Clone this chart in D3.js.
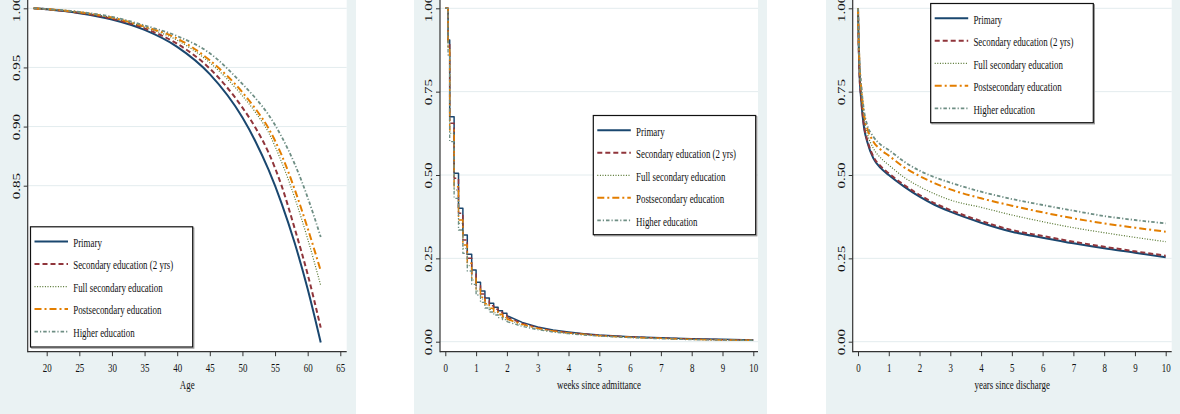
<!DOCTYPE html>
<html><head><meta charset="utf-8">
<script src="https://cdn.jsdelivr.net/npm/d3@7"></script>
<style>
html,body{margin:0;padding:0;background:#fff;}
svg{display:block;}
</style></head>
<body>
<svg id="c" width="1180" height="414"></svg>
<script>
// ---------- DATA ----------
const seriesNames = ["Primary","Secondary education (2 yrs)","Full secondary education","Postsecondary education","Higher education"];

// Panel 1: survival by age
const ages = [18,20,25,30,35,40,45,50,52,54,56,58,60,62];
const agePrimary   = [1.000,0.9991,0.9958,0.9905,0.9817,0.9674,0.9443,0.9076,0.8874,0.8635,0.8351,0.8017,0.7627,0.7175];
const ageSecondary = [1.000,0.9992,0.9962,0.9912,0.9830,0.9700,0.9490,0.9160,0.8990,0.8780,0.8500,0.8140,0.7750,0.7300];
const ageFullSec   = [1.000,0.9993,0.9966,0.9920,0.9840,0.9730,0.9540,0.9260,0.9120,0.8950,0.8700,0.8400,0.8050,0.7656];
const agePostsec   = [1.000,0.9993,0.9967,0.9922,0.9845,0.9745,0.9560,0.9290,0.9150,0.8985,0.8760,0.8470,0.8140,0.7780];
const ageHigher    = [1.000,0.9994,0.9970,0.9928,0.9855,0.9765,0.9620,0.9360,0.9240,0.9100,0.8915,0.8685,0.8400,0.8066];
const ageXTicks = [20,25,30,35,40,45,50,55,60,65];
const ageYTicks = [0.85,0.90,0.95,1.00];

// Panel 2: weeks since admittance (daily steps for two weeks, then tail)
const weeks = [0,0.09,0.143,0.286,0.429,0.571,0.714,0.857,1,1.143,1.286,1.429,1.571,1.714,1.857,2,2.5,3,3.5,4,4.5,5,6,7,8,9,10];
const wkPrimary   = [1,0.905,0.675,0.505,0.400,0.320,0.262,0.215,0.178,0.152,0.131,0.115,0.103,0.093,0.085,0.078,0.058,0.044,0.035,0.029,0.024,0.020,0.015,0.012,0.009,0.007,0.005];
const wkSecondary = [1,0.900,0.655,0.490,0.385,0.305,0.250,0.203,0.168,0.143,0.123,0.108,0.097,0.088,0.080,0.073,0.055,0.042,0.033,0.027,0.023,0.019,0.014,0.011,0.008,0.006,0.005];
const wkFullSec   = [1,0.880,0.625,0.455,0.355,0.280,0.228,0.185,0.152,0.128,0.110,0.097,0.087,0.079,0.072,0.066,0.050,0.038,0.030,0.025,0.021,0.017,0.013,0.010,0.007,0.005,0.004];
const wkPostsec   = [1,0.885,0.635,0.465,0.365,0.290,0.235,0.190,0.158,0.133,0.114,0.100,0.090,0.082,0.075,0.068,0.052,0.040,0.032,0.026,0.022,0.018,0.013,0.010,0.007,0.005,0.004];
const wkHigher    = [1,0.860,0.600,0.430,0.335,0.265,0.212,0.172,0.140,0.118,0.101,0.089,0.080,0.072,0.066,0.060,0.046,0.036,0.029,0.024,0.020,0.017,0.012,0.009,0.006,0.005,0.004];
const stepUntil = 2; // weeks drawn as visible daily steps

// Panel 3: years since discharge
const years = [0,0.02,0.05,0.1,0.2,0.3,0.5,0.75,1,1.5,2,2.5,3,4,5,6,7,8,9,10];
const yrPrimary   = [1,0.90,0.80,0.730,0.640,0.600,0.550,0.520,0.500,0.465,0.435,0.410,0.390,0.357,0.330,0.312,0.295,0.280,0.267,0.253];
const yrSecondary = [1,0.90,0.80,0.735,0.645,0.605,0.555,0.525,0.505,0.470,0.440,0.415,0.395,0.362,0.335,0.317,0.300,0.285,0.271,0.258];
const yrFullSec   = [1,0.91,0.82,0.750,0.665,0.625,0.580,0.550,0.530,0.493,0.465,0.443,0.425,0.403,0.380,0.360,0.342,0.327,0.313,0.300];
const yrPostsec   = [1,0.91,0.83,0.765,0.680,0.640,0.600,0.575,0.558,0.523,0.497,0.475,0.457,0.430,0.408,0.388,0.370,0.355,0.342,0.330];
const yrHigher    = [1,0.92,0.84,0.775,0.690,0.650,0.615,0.590,0.575,0.540,0.513,0.493,0.477,0.450,0.428,0.410,0.393,0.377,0.365,0.355];
const tenTicks = [0,1,2,3,4,5,6,7,8,9,10];
const quarterTicks = [0,0.25,0.5,0.75,1];

// ---------- STYLE ----------
const BG = "#eaf2f3";
const FONT = "'Liberation Serif','Times New Roman',serif";
const FS = 13.5, FSY = 15, SX = 0.66;
const styles = [
  {color:"#1a476f", dash:null,          w:2},
  {color:"#90353b", dash:"5,3",         w:2},
  {color:"#55752f", dash:"1,1.6",       w:1.2},
  {color:"#e37e00", dash:"7,3,2,3",     w:2},
  {color:"#6e8e84", dash:"3.5,2,1.2,2", w:1.8}
];

const svg = d3.select("#c");

function panel(cfg){
  const g = svg.append("g");
  g.append("rect").attr("x",cfg.bgX0).attr("y",0).attr("width",cfg.bgX1-cfg.bgX0).attr("height",414).attr("fill",BG);
  g.append("rect").attr("x",cfg.L).attr("y",-10).attr("width",cfg.R-cfg.L).attr("height",cfg.B+10).attr("fill","#fff");
  const x = d3.scaleLinear().domain(cfg.xd).range(cfg.xr);
  const y = d3.scaleLinear().domain(cfg.yd).range(cfg.yr);
  // gridlines
  g.append("g").selectAll("line").data(cfg.yTicks).join("line")
    .attr("x1",cfg.L).attr("x2",cfg.R).attr("y1",d=>y(d)).attr("y2",d=>y(d))
    .attr("stroke","#e3ecee").attr("stroke-width",1);
  // lines
  cfg.series.forEach((vals,i)=>{
    const st = styles[i];
    const data = cfg.xs.map((t,j)=>[t,vals[j]]);
    const sw = cfg.lw ? cfg.lw*st.w/2 : st.w;
    const parts = cfg.split!=null
      ? [[data.filter(d=>d[0]<=cfg.split), d3.curveStepAfter],[data.filter(d=>d[0]>=cfg.split), d3.curveLinear]]
      : [[data, cfg.curve]];
    parts.forEach(([dd,cv])=>{
      const gen = d3.line().x(d=>x(d[0])).y(d=>y(d[1])).curve(cv);
      g.append("path").attr("d",gen(dd)).attr("fill","none")
        .attr("stroke",st.color).attr("stroke-width",sw)
        .attr("stroke-dasharray",st.dash).attr("stroke-linejoin","round");
    });
  });
  // axes
  const ax = g.append("g").attr("transform",`translate(0,${cfg.B})`)
    .call(d3.axisBottom(x).tickValues(cfg.xTicks).tickSize(4.5).tickFormat(d3.format("d")));
  ax.select(".domain").remove();
  ax.selectAll(".tick line").attr("stroke","#333");
  ax.selectAll("text").attr("y",0).attr("dy",0).attr("fill","#111")
    .attr("font-family",FONT).attr("font-size",FS)
    .attr("transform",`translate(0,20.5) scale(${SX},1)`);
  const ay = g.append("g").attr("transform",`translate(${cfg.L},0)`)
    .call(d3.axisLeft(y).tickValues(cfg.yTicks).tickSize(4).tickFormat(d3.format(".2f")));
  ay.select(".domain").remove();
  ay.selectAll(".tick line").attr("stroke","#333");
  ay.selectAll("text").attr("x",0).attr("dy",0).attr("text-anchor","middle").attr("fill","#111")
    .attr("font-family",FONT).attr("font-size",FSY)
    .attr("transform",`translate(-7.8,0) scale(${SX},1) rotate(-90)`);
  g.append("line").attr("x1",cfg.L).attr("x2",cfg.L).attr("y1",-10).attr("y2",cfg.B+0.5).attr("stroke","#333").attr("stroke-width",1.2);
  g.append("line").attr("x1",cfg.L).attr("x2",cfg.R).attr("y1",cfg.B).attr("y2",cfg.B).attr("stroke","#333").attr("stroke-width",1.2);
  // axis title
  g.append("text").attr("transform",`translate(${(cfg.L+cfg.R)/2},388.5) scale(${SX},1)`)
    .attr("text-anchor","middle").attr("font-family",FONT).attr("font-size",FS).attr("fill","#111").text(cfg.title);
  // legend
  const lg = g.append("g");
  lg.append("rect").attr("x",cfg.lg[0]+1.2).attr("y",cfg.lg[1]+1.2).attr("width",cfg.lg[2]-cfg.lg[0]).attr("height",cfg.lg[3]-cfg.lg[1])
    .attr("fill","none").attr("stroke","#999").attr("stroke-width",1);
  lg.append("rect").attr("x",cfg.lg[0]).attr("y",cfg.lg[1]).attr("width",cfg.lg[2]-cfg.lg[0]).attr("height",cfg.lg[3]-cfg.lg[1])
    .attr("fill","#fff").attr("stroke","#111").attr("stroke-width",1.2);
  seriesNames.forEach((nm,i)=>{
    const ry = cfg.lg[1]+14.8+i*22.5;
    const st = styles[i];
    lg.append("line").attr("x1",cfg.lg[0]+4).attr("x2",cfg.lg[0]+37.5).attr("y1",ry).attr("y2",ry)
      .attr("stroke",st.color).attr("stroke-width",st.w).attr("stroke-dasharray",st.dash);
    lg.append("text").attr("transform",`translate(${cfg.lg[0]+42.7},${ry+5.2}) scale(${SX},1)`)
      .attr("font-family",FONT).attr("font-size",FS).attr("fill","#111").text(nm);
  });
}

panel({
  bgX0:0,bgX1:356,L:27.7,R:346.7,B:351.7,
  xd:[20,65],xr:[46.7,340.3],yd:[0.85,1.0],yr:[185.7,8.3],
  xTicks:ageXTicks,yTicks:ageYTicks,xs:ages,
  series:[agePrimary,ageSecondary,ageFullSec,agePostsec,ageHigher],
  curve:d3.curveMonotoneX,title:"Age",lg:[30.5,226.8,192.7,347]
});
panel({
  bgX0:414,bgX1:767,L:440,R:758,B:351.7,
  xd:[0,10],xr:[445.3,753.3],yd:[0,1],yr:[341.7,8.3],
  xTicks:tenTicks,yTicks:quarterTicks,xs:weeks,
  series:[wkPrimary,wkSecondary,wkFullSec,wkPostsec,wkHigher],
  split:stepUntil,title:"weeks since admittance",lg:[593.3,115.5,755.7,234.7],lw:1.5
});
panel({
  bgX0:826,bgX1:1180,L:852.7,R:1171.7,B:351.7,
  xd:[0,10],xr:[858,1165.7],yd:[0,1],yr:[341.7,8.3],
  xTicks:tenTicks,yTicks:quarterTicks,xs:years,
  series:[yrPrimary,yrSecondary,yrFullSec,yrPostsec,yrHigher],
  curve:d3.curveMonotoneX,title:"years since discharge",lg:[930.7,3.5,1093.3,122.7]
});
</script>
</body></html>
